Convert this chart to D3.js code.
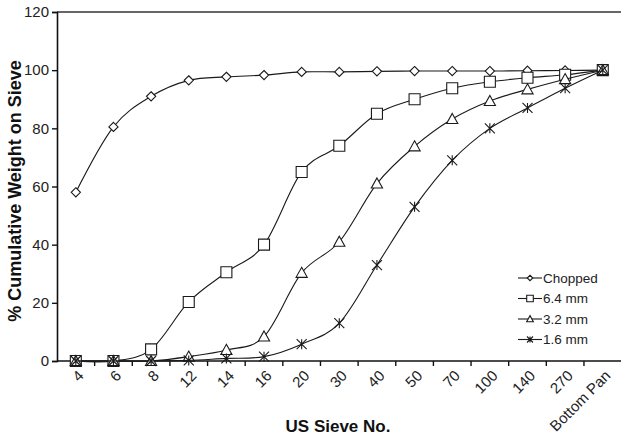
<!DOCTYPE html>
<html>
<head>
<meta charset="utf-8">
<script src="https://cdn.jsdelivr.net/npm/d3@7"></script>
<style>
  body { margin: 0; background: #fff; }
  svg { font-family: Arial, "Liberation Sans", sans-serif; }
</style>
</head>
<body>
<div id="chart"></div>
<script>
// Data
const sieves = ['4', '6', '8', '12', '14', '16', '20', '30', '40', '50', '70', '100', '140', '270', 'Bottom Pan'];
const chopped = [58, 80.5, 91, 96.5, 97.7, 98.3, 99.4, 99.4, 99.6, 99.7, 99.7, 99.7, 99.8, 99.9, 100];
const mm64 = [0, 0, 4, 20.3, 30.5, 40, 65, 74, 85, 90, 93.8, 96, 97.4, 98.4, 100];
const mm32 = [0, 0, 0, 1.5, 3.8, 8.4, 30.3, 41, 61, 73.8, 83.2, 89.4, 93.4, 96.9, 100];
const mm16 = [0, 0, 0, 0.2, 0.9, 1.5, 5.8, 13, 33, 53, 69, 80, 87, 93.8, 100];
const yTicks = [0, 20, 40, 60, 80, 100, 120];

const series = [
  { name: 'Chopped', values: chopped, symbol: 'diamond' },
  { name: '6.4 mm', values: mm64, symbol: 'square' },
  { name: '3.2 mm', values: mm32, symbol: 'triangle' },
  { name: '1.6 mm', values: mm16, symbol: 'star' }
];

const W = 621, H = 440;
const margin = { top: 12, right: 0, bottom: 79, left: 57 };
const width = 564.6;
const height = H - margin.top - margin.bottom;

const x = d3.scaleBand().domain(sieves).range([0, width]);
const y = d3.scaleLinear().domain([0, 120]).range([height, 0]);
const cx = d => x(d) + x.bandwidth() / 2;

const svg = d3.select('#chart').append('svg')
    .attr('width', W)
    .attr('height', H);

const g = svg.append('g')
    .attr('transform', 'translate(' + margin.left + ',' + margin.top + ')');

// top border of plot area
g.append('line')
    .attr('x1', 0).attr('x2', W)
    .attr('y1', 0).attr('y2', 0)
    .attr('stroke', '#666').attr('stroke-width', 2);

// y axis
const yAxis = g.append('g')
    .call(d3.axisLeft(y).tickValues(yTicks).tickSize(5).tickPadding(3));
yAxis.select('.domain').attr('stroke', '#111').attr('stroke-width', 1.6);
yAxis.selectAll('.tick line').attr('stroke', '#111').attr('stroke-width', 1.4);
yAxis.selectAll('.tick text').style('font-size', '15px').attr('fill', '#222');

// x axis: ticks between categories
const xAxisG = g.append('g').attr('transform', 'translate(0,' + height + ')');
xAxisG.append('line')
    .attr('x1', 0).attr('x2', W)
    .attr('stroke', '#111').attr('stroke-width', 1.6);
xAxisG.selectAll('line.tk')
    .data(sieves.slice(1))
    .enter().append('line')
    .attr('class', 'tk')
    .attr('x1', d => x(d)).attr('x2', d => x(d))
    .attr('y1', 0).attr('y2', 5)
    .attr('stroke', '#111').attr('stroke-width', 1.4);
xAxisG.selectAll('text.lbl')
    .data(sieves)
    .enter().append('text')
    .attr('class', 'lbl')
    .attr('transform', d => 'translate(' + (cx(d) + 5) + ',12) rotate(-45)')
    .attr('text-anchor', 'end')
    .attr('dy', '0.35em')
    .style('font-size', '15px')
    .attr('fill', '#222')
    .text(d => d);

// axis titles
svg.append('text')
    .attr('transform', 'translate(338,432)')
    .attr('text-anchor', 'middle')
    .style('font-size', '17px')
    .style('font-weight', 'bold')
    .attr('fill', '#111')
    .text('US Sieve No.');

svg.append('text')
    .attr('transform', 'translate(21,191) rotate(-90)')
    .attr('text-anchor', 'middle')
    .style('font-size', '18px')
    .style('font-weight', 'bold')
    .attr('fill', '#111')
    .text('% Cumulative Weight on Sieve');

// markers
const symbolPath = (type, s) => {
  if (type === 'diamond') return 'M0,' + (-s) + 'L' + s + ',0L0,' + s + 'L' + (-s) + ',0Z';
  if (type === 'square') return 'M' + (-s) + ',' + (-s) + 'H' + s + 'V' + s + 'H' + (-s) + 'Z';
  if (type === 'triangle') return 'M0,' + (-s) + 'L' + s + ',' + (s * 0.8) + 'H' + (-s) + 'Z';
  // star: asterisk made of three strokes
  return 'M' + (-s) + ',' + (-s) + 'L' + s + ',' + s + 'M' + s + ',' + (-s) + 'L' + (-s) + ',' + s + 'M0,' + (-s) + 'V' + s;
};
const symSize = { diamond: 4.6, square: 5.5, triangle: 5.6, star: 5 };

const line = d3.line()
    .x((d, i) => cx(sieves[i]))
    .y(d => y(d))
    .curve(d3.curveCatmullRom.alpha(0));

series.forEach(s => {
  g.append('path')
      .attr('d', line(s.values))
      .attr('fill', 'none')
      .attr('stroke', '#1a1a1a')
      .attr('stroke-width', 1.1);

  g.selectAll(null)
      .data(s.values)
      .enter().append('path')
      .attr('transform', (d, i) => 'translate(' + cx(sieves[i]) + ',' + y(d) + ')')
      .attr('d', symbolPath(s.symbol, symSize[s.symbol]))
      .attr('fill', s.symbol === 'star' ? 'none' : '#fff')
      .attr('stroke', '#1a1a1a')
      .attr('stroke-width', 1.1);
});

// legend
const legend = svg.append('g').attr('transform', 'translate(518,278)');
series.forEach((s, i) => {
  const row = legend.append('g').attr('transform', 'translate(0,' + (i * 20.5) + ')');
  row.append('line')
      .attr('x1', 0).attr('x2', 24)
      .attr('stroke', '#1a1a1a').attr('stroke-width', 1.1);
  row.append('path')
      .attr('transform', 'translate(12,0)')
      .attr('d', symbolPath(s.symbol, symSize[s.symbol] * 0.6))
      .attr('fill', s.symbol === 'star' ? 'none' : '#fff')
      .attr('stroke', '#1a1a1a')
      .attr('stroke-width', 1.1);
  row.append('text')
      .attr('x', 25)
      .attr('dy', '0.36em')
      .style('font-size', '13.5px')
      .attr('fill', '#222')
      .text(s.name);
});
</script>
</body>
</html>
